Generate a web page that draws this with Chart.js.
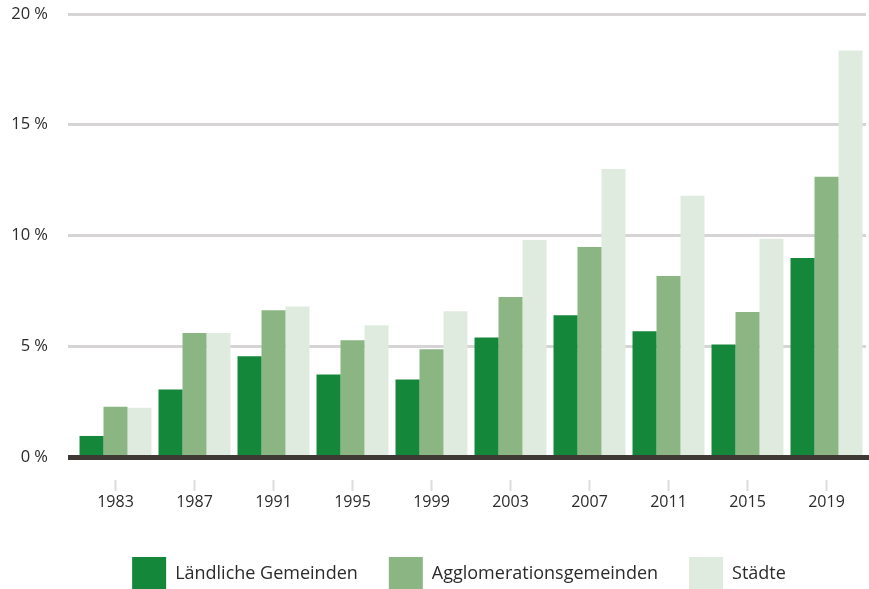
<!DOCTYPE html>
<html>
<head>
<meta charset="utf-8">
<script src="https://cdn.jsdelivr.net/npm/chart.js@4"></script>
<style>
  html, body { margin: 0; padding: 0; background: #fff; }
  #wrap { width: 869px; height: 589px; }
</style>
</head>
<body>
<div id="wrap"><canvas id="chart"></canvas></div>
<script>
const years = ['1983', '1987', '1991', '1995', '1999', '2003', '2007', '2011', '2015', '2019'];
const laendlich = [0.95, 3.05, 4.55, 3.72, 3.5, 5.4, 6.4, 5.68, 5.08, 8.98];
const agglo = [2.27, 5.6, 6.63, 5.27, 4.86, 7.22, 9.48, 8.17, 6.55, 12.65];
const staedte = [2.22, 5.6, 6.8, 5.95, 6.58, 9.8, 13.0, 11.8, 9.85, 18.35];
const yTicks = [0, 5, 10, 15, 20];

const FONT = 'Open Sans, Noto Sans, sans-serif';
const TEXT = '#2b2b2b';

// dark zero line and the small x tick marks below it
const baseline = {
  id: 'baseline',
  afterLayout(chart) {
    // nudge the legend a little to the left
    chart.legend.left -= 12;
    chart.legend.right -= 12;
  },
  afterDatasetsDraw(chart) {
    const { ctx, chartArea, scales } = chart;
    const y0 = scales.y.getPixelForValue(0);
    ctx.save();
    ctx.strokeStyle = '#3e3935';
    ctx.lineWidth = 5;
    ctx.beginPath();
    ctx.moveTo(chartArea.left - 8, y0 + 0.5);
    ctx.lineTo(chart.width, y0 + 0.5);
    ctx.stroke();

    ctx.strokeStyle = '#dcdcdc';
    ctx.lineWidth = 2;
    scales.x.ticks.forEach((t, i) => {
      const x = scales.x.getPixelForTick(i);
      ctx.beginPath();
      ctx.moveTo(x, y0 + 23);
      ctx.lineTo(x, y0 + 34);
      ctx.stroke();
    });
    ctx.restore();
  }
};

new Chart(document.getElementById('chart'), {
  type: 'bar',
  data: {
    labels: years,
    datasets: [
      { label: 'Ländliche Gemeinden', data: laendlich, backgroundColor: 'rgb(20, 135, 58)' },
      { label: 'Agglomerationsgemeinden', data: agglo, backgroundColor: 'rgb(139, 182, 131)' },
      { label: 'Städte', data: staedte, backgroundColor: 'rgb(224, 235, 223)' }
    ]
  },
  options: {
    responsive: true,
    maintainAspectRatio: false,
    animation: false,
    layout: { padding: { top: 14, right: 3, left: 0, bottom: -11 } },
    datasets: {
      bar: { categoryPercentage: 0.911, barPercentage: 1.0 }
    },
    plugins: {
      tooltip: { enabled: false },
      legend: {
        position: 'bottom',
        fullSize: false,
        labels: {
          boxWidth: 34,
          boxHeight: 33,
          padding: 31,
          color: TEXT,
          font: { family: FONT, size: 18 }
        }
      }
    },
    scales: {
      x: {
        grid: { display: false, drawTicks: false },
        border: { display: false },
        ticks: {
          color: TEXT,
          padding: 36,
          font: { family: FONT, size: 16 }
        },
        afterFit(scale) {
          scale.height = 69;
          scale.paddingLeft = 0;
          scale.paddingRight = 0;
        }
      },
      y: {
        min: 0,
        max: 20,
        afterBuildTicks(scale) { scale.ticks = yTicks.map(v => ({ value: v })); },
        afterFit(scale) {
          scale.width = 76;
          scale.paddingTop = 0;
          scale.paddingBottom = 0;
        },
        border: { display: false },
        grid: {
          color(ctx) { return ctx.tick && ctx.tick.value === 0 ? 'rgba(0,0,0,0)' : '#d6d4d4'; },
          lineWidth: 3,
          drawTicks: true,
          tickLength: 8
        },
        ticks: {
          color: TEXT,
          padding: 20,
          font: { family: FONT, size: 16.5 },
          callback(v) { return v + ' %'; }
        }
      }
    }
  },
  plugins: [baseline]
});
</script>
</body>
</html>
